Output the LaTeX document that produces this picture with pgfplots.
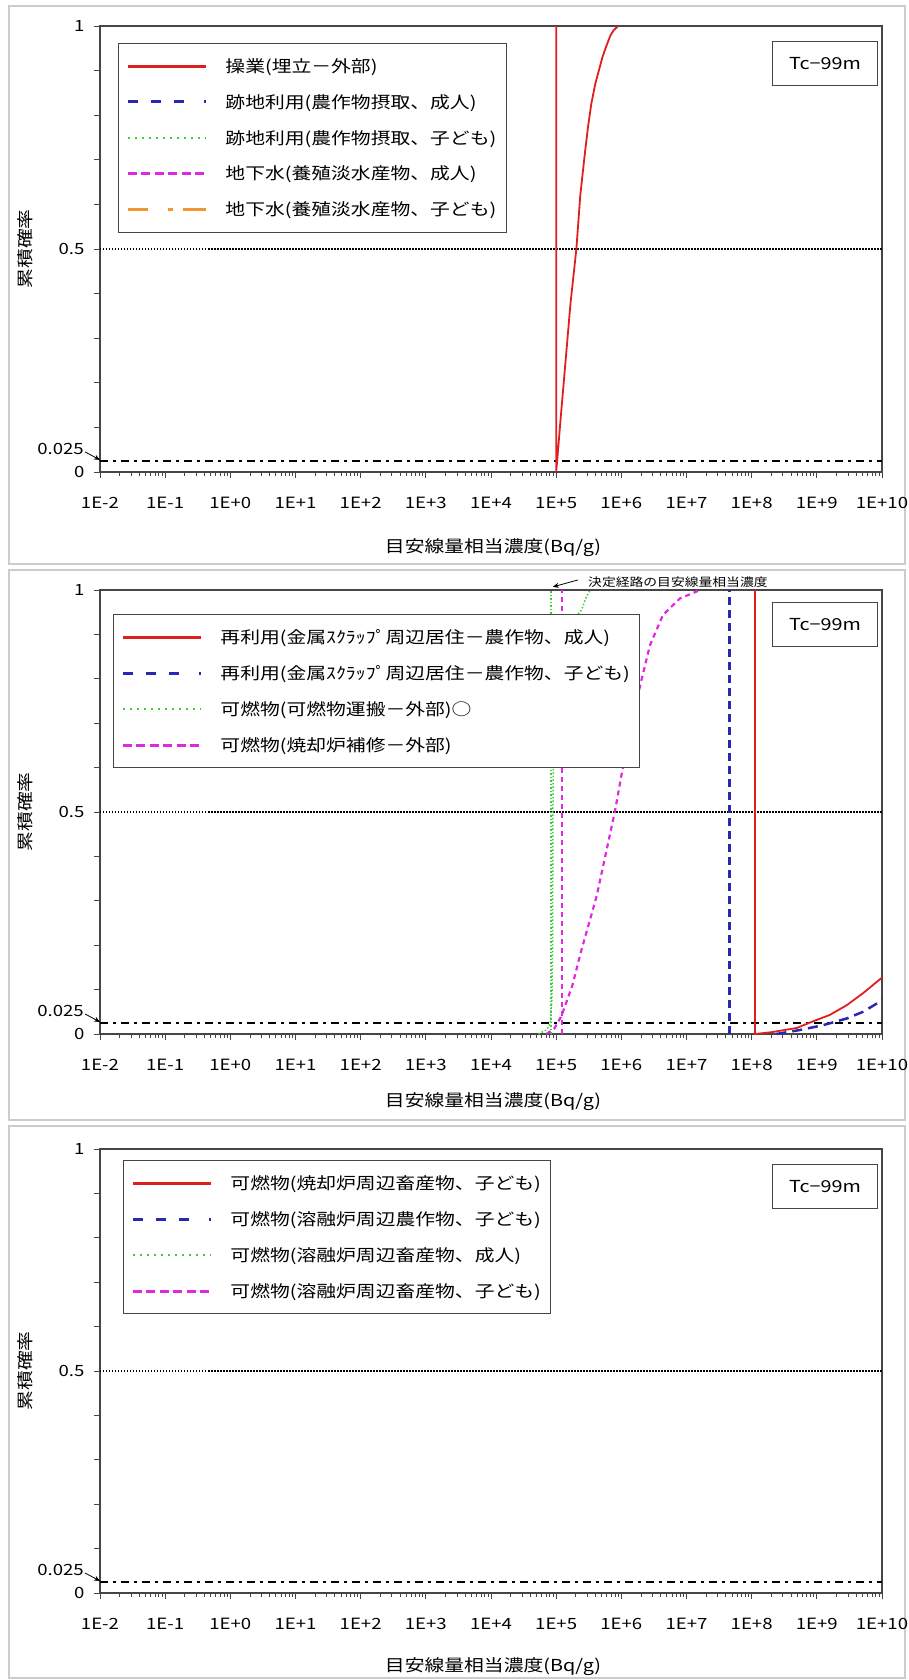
\documentclass[border=0pt]{standalone}
\usepackage{fontspec}
\setmainfont{Noto Sans CJK JP}[FakeStretch=1.2]
\usepackage{pgfplots}
\pgfplotsset{compat=1.18}
\usetikzlibrary{arrows.meta}
\definecolor{cred}{RGB}{225,30,30}
\definecolor{cblue}{RGB}{40,40,180}
\definecolor{cgreen}{RGB}{60,205,60}
\definecolor{cmag}{RGB}{225,40,225}
\definecolor{corange}{RGB}{240,150,50}
\definecolor{cframe}{RGB}{70,70,70}
\newcommand\legfont{\fontsize{16.5}{19}\selectfont}
\newcommand\tickfont{\fontsize{15.5}{17}\selectfont}
\newcommand\notefont{\fontsize{11.5}{13}\selectfont}

\tikzset{
 refl/.style={black, line width=2.2pt, dash pattern=on 8pt off 5pt on 3pt off 5pt},
 grid5/.style={black, line width=1.2pt, dash pattern=on 1.5pt off 1.5pt},
 legred/.style={cred, line width=3pt},
 legblue/.style={cblue, line width=3pt, dash pattern=on 10pt off 13pt on 10pt off 13pt on 10pt off 20pt on 4pt off 20pt},
 leggreen/.style={cgreen, line width=2pt, dash pattern=on 2pt off 5pt},
 legmag/.style={cmag, line width=3pt, dash pattern=on 9pt off 4.5pt},
 legorange/.style={corange, line width=3pt, dash pattern=on 20pt off 20pt on 5pt off 10pt on 25pt off 20pt},
}
\pgfplotsset{
  legend image code/.code={\draw[#1] (0pt,0pt) -- (78pt,0pt);},
  every axis/.append style={
  scale only axis, width=782pt,
  xmin=1e-2, xmax=1e10, ymin=0, ymax=1,
  xtick={1e-2,1e-1,1,10,100,1e3,1e4,1e5,1e6,1e7,1e8,1e9,1e10},
  xticklabels={1E-2,1E-1,1E+0,1E+1,1E+2,1E+3,1E+4,1E+5,1E+6,1E+7,1E+8,1E+9,1E+10},
  minor xtick={2e-2,3e-2,4e-2,5e-2,6e-2,7e-2,8e-2,9e-2,
   0.2,0.3,0.4,0.5,0.6,0.7,0.8,0.9,
   2,3,4,5,6,7,8,9,
   20,30,40,50,60,70,80,90,
   200,300,400,500,600,700,800,900,
   2e3,3e3,4e3,5e3,6e3,7e3,8e3,9e3,
   2e4,3e4,4e4,5e4,6e4,7e4,8e4,9e4,
   2e5,3e5,4e5,5e5,6e5,7e5,8e5,9e5,
   2e6,3e6,4e6,5e6,6e6,7e6,8e6,9e6,
   2e7,3e7,4e7,5e7,6e7,7e7,8e7,9e7,
   2e8,3e8,4e8,5e8,6e8,7e8,8e8,9e8,
   2e9,3e9,4e9,5e9,6e9,7e9,8e9,9e9},
  ytick={0,0.1,0.2,0.3,0.4,0.5,0.6,0.7,0.8,0.9,1},
  yticklabels={0,,,,,0.5,,,,,1},
  tick align=outside, tick pos=left,
  major tick length=6pt, minor tick length=4pt,
  tick style={cframe, line width=0.8pt},
  axis line style={cframe, line width=1.2pt},
  tick label style={font=\tickfont},
  xticklabel style={yshift=-16pt},
  yticklabel style={xshift=-6pt},
  clip=false,
  legend cell align=left,
  legend style={draw=cframe, line width=1pt, fill=white, font=\legfont,
    inner xsep=8pt, inner ysep=13pt, row sep=16.5pt, column sep=16pt, anchor=north west},
  ylabel={累積確率}, xlabel={目安線量相当濃度(Bq/g)},
  label style={font=\legfont},
  ylabel style={at={(axis description cs:-0.096,0.5)}, anchor=center},
 },
}
\newcommand\commonbits[1]{%
  \addplot[grid5, forget plot] coordinates {(1e-2,0.5) (1e10,0.5)};
  \addplot[refl, forget plot] coordinates {(1e-2,0.025) (1e10,0.025)};
  \node[anchor=east, font=\tickfont, inner sep=0pt] at (axis description cs:-0.0205,0.052) {0.025};
  \draw[-{Stealth[length=6pt,width=5pt]}, black, line width=0.8pt] (axis description cs:-0.019,0.045) -- (axis description cs:0,0.027);
  \node[draw=cframe, line width=1pt, fill=white, minimum width=105pt, minimum height=44pt, anchor=north east, font=\legfont] at (axis description cs:0.995,#1) {Tc−99m};
}

\begin{document}
\begin{tikzpicture}[x=1pt,y=1pt]
\path[use as bounding box] (0,0) rectangle (909,1680);
\draw[gray!40, line width=2pt] (9,1674) rectangle (905,1116);
\draw[gray!40, line width=2pt] (9,1110) rectangle (905,560);
\draw[gray!40, line width=2pt] (9,554) rectangle (905,2);

% ---------- Panel 1 ----------
\begin{semilogxaxis}[at={(100pt,1208pt)}, anchor=south west, height=446pt,
  legend style={at={(0.023,0.962)}},
  xlabel style={at={(axis description cs:0.5026,-0.17)}, anchor=center}]
\commonbits{0.966}
\addplot[cred, line width=1.8pt, forget plot] coordinates {
 (1e5,1) (1e5,0) (103514,0.025) (116681,0.117) (165959,0.378) (204174,0.5)
 (234423,0.62) (275423,0.714) (309030,0.775) (346737,0.826) (398107,0.87) (451856,0.90)
 (512861,0.93) (588844,0.955) (676083,0.978) (758578,0.99) (891251,1)};
\addlegendimage{legred}\addlegendentry{操業(埋立－外部)}
\addlegendimage{legblue}\addlegendentry{跡地利用(農作物摂取、成人)}
\addlegendimage{leggreen}\addlegendentry{跡地利用(農作物摂取、子ども)}
\addlegendimage{legmag}\addlegendentry{地下水(養殖淡水産物、成人)}
\addlegendimage{legorange}\addlegendentry{地下水(養殖淡水産物、子ども)}
\end{semilogxaxis}

% ---------- Panel 2 ----------
\begin{semilogxaxis}[at={(100pt,646pt)}, anchor=south west, height=444pt,
  legend style={at={(0.0166,0.946)}},
  xlabel style={at={(axis description cs:0.5026,-0.152)}, anchor=center}]
\commonbits{0.973}
\addplot[cred, line width=1.8pt, forget plot] coordinates {
 (1.122e8,1) (1.122e8,0) (2.0e8,0.004) (4.9e8,0.0135) (8.9e8,0.029) (1.585e9,0.043)
 (2.884e9,0.065) (5.129e9,0.092) (1e10,0.127)};
\addplot[cblue, line width=2.5pt, dash pattern=on 8pt off 5pt, forget plot] coordinates {(4.54e7,0) (4.54e7,1)};
\addplot[cblue, line width=2.5pt, dash pattern=on 10pt off 6pt, forget plot] coordinates {
 (2.4e8,0) (5.5e8,0.009) (1.26e9,0.020) (2.884e9,0.035) (5.129e9,0.050) (9.33e9,0.073) (1e10,0.078)};
\addplot[cgreen, line width=1.5pt, dotted, forget plot] coordinates {(8.3e4,0) (8.3e4,1)};
\addplot[cgreen, line width=1.5pt, dotted, forget plot] coordinates {
 (5.37e4,0) (7.24e4,0.01) (8.13e4,0.025) (8.61e4,0.08) (8.81e4,0.2) (8.91e4,0.5)
 (9.12e4,0.65) (1e5,0.8) (1.41e5,0.9) (2.0e5,0.94) (2.455e5,0.955) (2.82e5,0.98) (3.31e5,1)};
\addplot[cmag, line width=2.2pt, dash pattern=on 5pt off 4pt, forget plot] coordinates {(1.216e5,0) (1.216e5,1)};
\addplot[cmag, line width=2.2pt, dash pattern=on 5pt off 4pt, forget plot] coordinates {
 (7.08e4,0) (9.33e4,0.012) (1.202e5,0.04) (1.778e5,0.11) (2.4e5,0.185) (4.17e5,0.31)
 (7.943e5,0.5) (1.0715e6,0.606) (1.445e6,0.696) (1.95e6,0.786) (2.754e6,0.876)
 (4.365e6,0.944) (7.943e6,0.981) (1.622e7,1)};
\node[anchor=center, font=\notefont, inner sep=0pt] at (axis description cs:0.739,1.018) {決定経路の目安線量相当濃度};
\draw[-{Stealth[length=6pt,width=5pt]}, black, line width=0.8pt] (axis description cs:0.611,1.0225) -- (axis description cs:0.579,1.007);
\addlegendimage{legred}\addlegendentry{再利用(金属ｽｸﾗｯﾌﾟ周辺居住－農作物、成人)}
\addlegendimage{legblue}\addlegendentry{再利用(金属ｽｸﾗｯﾌﾟ周辺居住－農作物、子ども)}
\addlegendimage{leggreen}\addlegendentry{可燃物(可燃物運搬－外部)○}
\addlegendimage{legmag}\addlegendentry{可燃物(焼却炉補修－外部)}
\end{semilogxaxis}

% ---------- Panel 3 ----------
\begin{semilogxaxis}[at={(100pt,87pt)}, anchor=south west, height=444pt,
  legend style={at={(0.0294,0.975)}},
  xlabel style={at={(axis description cs:0.5026,-0.165)}, anchor=center}]
\commonbits{0.966}
\addlegendimage{legred}\addlegendentry{可燃物(焼却炉周辺畜産物、子ども)}
\addlegendimage{legblue}\addlegendentry{可燃物(溶融炉周辺農作物、子ども)}
\addlegendimage{leggreen}\addlegendentry{可燃物(溶融炉周辺畜産物、成人)}
\addlegendimage{legmag}\addlegendentry{可燃物(溶融炉周辺畜産物、子ども)}
\end{semilogxaxis}
\end{tikzpicture}
\end{document}
